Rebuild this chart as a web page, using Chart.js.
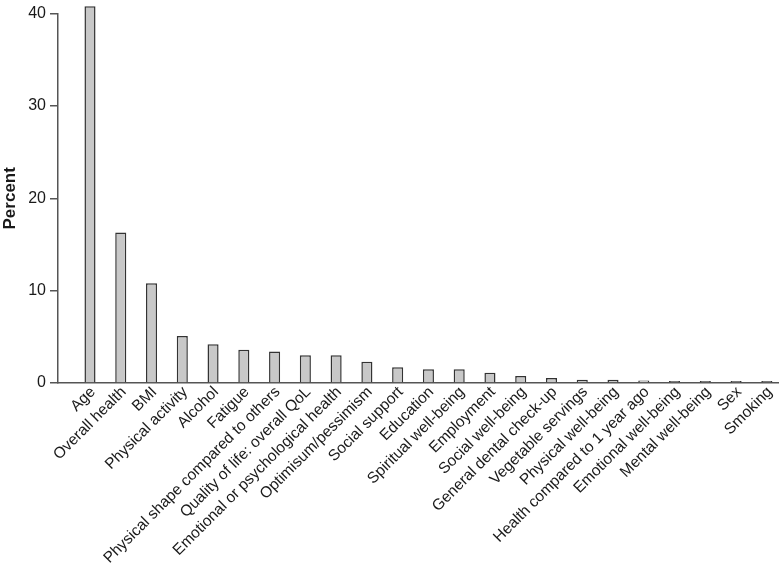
<!DOCTYPE html>
<html>
<head>
<meta charset="utf-8">
<script src="https://cdn.jsdelivr.net/npm/chart.js@4"></script>
<style>
  html, body { margin: 0; padding: 0; background: #fff; }
  #wrap { width: 780px; height: 569px; position: relative; }
</style>
</head>
<body>
<div id="wrap"><canvas id="myChart"></canvas></div>
<script>
const ctx = document.getElementById('myChart');

// categories and values
const categories = [
  'Age', 'Overall health', 'BMI', 'Physical activity', 'Alcohol', 'Fatigue',
  'Physical shape compared to others', 'Quality of life: overall QoL',
  'Emotional or psychological health', 'Optimisum/pessimism', 'Social support',
  'Education', 'Spiritual well-being', 'Employment', 'Social well-being',
  'General dental check-up', 'Vegetable servings', 'Physical well-being',
  'Health compared to 1 year ago', 'Emotional well-being', 'Mental well-being',
  'Sex', 'Smoking'
];
const percents = [
  40.8, 16.3, 10.8, 5.1, 4.2, 3.6, 3.4, 3.0, 3.0, 2.3, 1.7, 1.5, 1.5,
  1.1, 0.75, 0.54, 0.35, 0.35, 0.28, 0.2, 0.1, 0.05, 0.05
];
const yTicks = [0, 10, 20, 30, 40];

const axisColor = '#555';
const textColor = '#1a1a1a';
const fontFamily = '"Liberation Sans", Arial, Helvetica, sans-serif';

const myChart = new Chart(ctx, {
  type: 'bar',
  data: {
    labels: categories,
    datasets: [
      {
        label: 'Percent',
        data: percents,
        backgroundColor: '#c8c8c8',
        borderColor: '#333',
        borderWidth: 1.5,
        barPercentage: 0.36,
        categoryPercentage: 1,
        minBarLength: 2,
        clip: false,
      },
    ],
  },
  options: {
    responsive: true,
    maintainAspectRatio: false,
    animation: false,
    layout: { padding: { top: 9, left: 0, right: 0, bottom: 0 }, autoPadding: false },
    plugins: {
      legend: { display: false },
      tooltip: { enabled: false },
    },
    scales: {
      x: {
        grid: { display: false, drawTicks: false },
        border: { display: true, color: axisColor, width: 1.5 },
        ticks: {
          autoSkip: false,
          maxRotation: 45,
          minRotation: 45,
          padding: 0,
          labelOffset: 3,
          color: textColor,
          font: { family: fontFamily, size: 15.5 },
        },
        // leave a gap between the y axis and the first bar, like the original
        afterBuildTicks: (scale) => {
          scale._startValue = -1.04;
          scale._valueRange = 23.43;
        },
        afterFit: (scale) => {
          scale.height = 186;
        },
      },
      y: {
        min: 0,
        max: 40,
        afterBuildTicks: (scale) => {
          scale.ticks = yTicks.map((v) => ({ value: v }));
        },
        grid: {
          drawOnChartArea: false,
          drawTicks: true,
          tickLength: 8,
          color: axisColor,
          lineWidth: 1.5,
        },
        border: { display: true, color: axisColor, width: 1.5 },
        ticks: {
          padding: 4,
          color: textColor,
          font: { family: fontFamily, size: 16 },
        },
        title: {
          display: true,
          text: 'Percent',
          color: textColor,
          padding: 0,
          font: { family: fontFamily, size: 17, weight: 'bold' },
        },
        afterFit: (scale) => {
          scale.width = 58;
        },
      },
    },
  },
});
</script>
</body>
</html>
